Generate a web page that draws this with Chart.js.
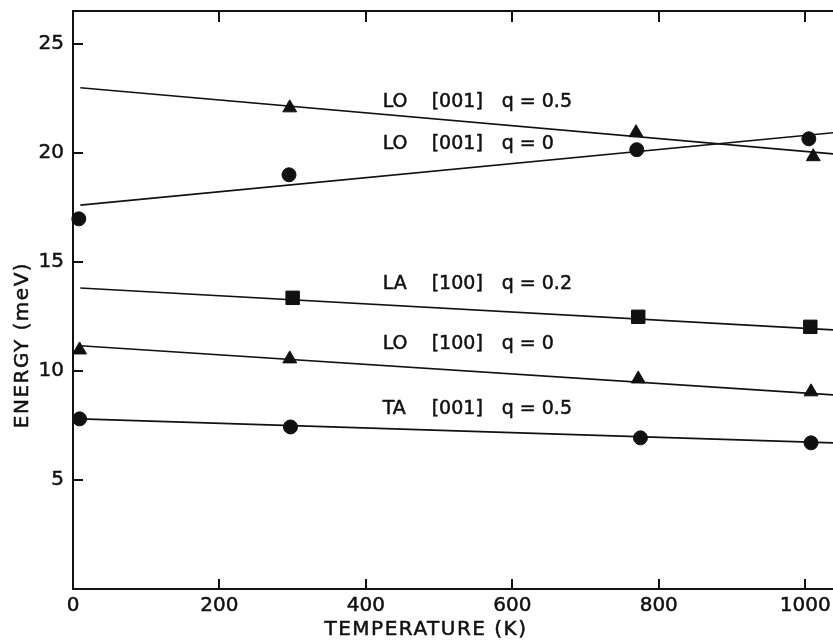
<!DOCTYPE html>
<html>
<head>
<meta charset="utf-8">
<script src="https://cdn.jsdelivr.net/npm/chart.js@4.4.1/dist/chart.umd.min.js"></script>
<style>
  html, body { margin: 0; padding: 0; background: #fff; }
  #wrap { width: 833px; height: 642px; }
</style>
</head>
<body>
<div id="wrap"><canvas id="c" width="833" height="642"></canvas></div>
<script>
// ---- data ----
const xTicks = [0, 200, 400, 600, 800, 1000];
const yTicks = [5, 10, 15, 20, 25];

// measured points
const lo001q05T = [296, 769, 1011];
const lo001q05E = [22.06, 20.92, 19.82];
const lo001q0T  = [8, 295, 770, 1005];
const lo001q0E  = [16.97, 18.99, 20.14, 20.64];
const la100q02T = [300, 772, 1007];
const la100q02E = [13.35, 12.48, 12.02];
const lo100q0T  = [9, 296, 772, 1008];
const lo100q0E  = [10.96, 10.55, 9.63, 9.04];
const ta001q05T = [9, 297, 775, 1008];
const ta001q05E = [7.80, 7.43, 6.93, 6.70];

// fitted straight lines (end points)
const fitT = [10, 1038];
const lo001q05Fit = [22.98, 19.95];
const lo001q0Fit  = [17.60, 20.92];
const la100q02Fit = [13.80, 11.88];
const lo100q0Fit  = [11.15, 8.90];
const ta001q05Fit = [7.80, 6.70];

// curve labels
const labelMode = ['LO', 'LO', 'LA', 'LO', 'TA'];
const labelDir  = ['[001]', '[001]', '[100]', '[100]', '[001]'];
const labelQ    = ['q = 0.5', 'q = 0', 'q = 0.2', 'q = 0', 'q = 0.5'];
const labelT    = [423, 423, 423, 423, 423];
const labelE    = [22.33, 20.40, 13.98, 11.23, 8.25];

const xTitle = 'TEMPERATURE (K)';
const yTitle = 'ENERGY (meV)';

// ---- build ----
const INK = '#111';
const FONT = '"DejaVu Sans", sans-serif';
const pts = (t, e) => t.map((v, i) => ({ x: v, y: e[i] }));

function markers(t, e, style, r) {
  return { data: pts(t, e), showLine: false, pointStyle: style, pointRadius: r,
           pointHoverRadius: r, backgroundColor: INK, borderColor: INK, borderWidth: 1 };
}
function fit(e) {
  return { data: pts(fitT, e), showLine: true, pointRadius: 0, borderColor: INK,
           borderWidth: 1.6, fill: false, tension: 0 };
}

function heavyText(ctx, s, x, y) {
  ctx.fillText(s, x, y);
  ctx.strokeText(s, x, y);
}

const decor = {
  id: 'decor',
  afterDraw(chart) {
    const ctx = chart.ctx, a = chart.chartArea;
    const xs = chart.scales.x, ys = chart.scales.y;
    ctx.save();
    ctx.strokeStyle = INK;
    ctx.lineWidth = 2;
    ctx.lineCap = 'butt';
    ctx.beginPath();
    ctx.moveTo(a.left, a.top); ctx.lineTo(a.left, a.bottom);
    ctx.moveTo(a.left - 1, a.bottom); ctx.lineTo(a.right, a.bottom);
    ctx.moveTo(a.left - 1, a.top); ctx.lineTo(a.right, a.top);
    ctx.stroke();
    ctx.beginPath();
    xTicks.forEach(v => {
      if (v === 0) return;
      const px = Math.round(xs.getPixelForValue(v));
      ctx.moveTo(px, a.bottom); ctx.lineTo(px, a.bottom - 10);
      ctx.moveTo(px, a.top); ctx.lineTo(px, a.top + 11);
    });
    yTicks.forEach(v => {
      const py = Math.round(ys.getPixelForValue(v));
      ctx.moveTo(a.left, py); ctx.lineTo(a.left + 10, py);
    });
    ctx.stroke();

    ctx.fillStyle = INK;
    ctx.lineWidth = 0.5;
    // tick labels
    ctx.font = '20px ' + FONT;
    ctx.textBaseline = 'middle';
    ctx.textAlign = 'center';
    xTicks.forEach(v => heavyText(ctx, String(v), xs.getPixelForValue(v), a.bottom + 17));
    ctx.textAlign = 'right';
    yTicks.forEach(v => heavyText(ctx, String(v), a.left - 9, ys.getPixelForValue(v)));

    // curve labels
    ctx.font = '19px ' + FONT;
    ctx.textAlign = 'left';
    labelMode.forEach((m, i) => {
      const px = xs.getPixelForValue(labelT[i]);
      const py = ys.getPixelForValue(labelE[i]);
      heavyText(ctx, m, px, py);
      heavyText(ctx, labelDir[i], px + 49, py);
      heavyText(ctx, labelQ[i], px + 119, py);
    });

    // axis titles
    ctx.font = '20px ' + FONT;
    ctx.letterSpacing = '1.5px';
    ctx.textAlign = 'center';
    heavyText(ctx, xTitle, 426, 630);
    ctx.translate(23, 345);
    ctx.rotate(-Math.PI / 2);
    heavyText(ctx, yTitle, 0, 0);
    ctx.restore();
  }
};

new Chart(document.getElementById('c'), {
  type: 'scatter',
  data: {
    datasets: [
      fit(lo001q05Fit), fit(lo001q0Fit), fit(la100q02Fit), fit(lo100q0Fit), fit(ta001q05Fit),
      markers(lo001q05T, lo001q05E, 'triangle', 8),
      markers(lo001q0T, lo001q0E, 'circle', 7),
      markers(la100q02T, la100q02E, 'rect', 9.5),
      markers(lo100q0T, lo100q0E, 'triangle', 8),
      markers(ta001q05T, ta001q05E, 'circle', 7)
    ]
  },
  options: {
    responsive: false,
    animation: false,
    devicePixelRatio: 1,
    clip: false,
    layout: { autoPadding: false, padding: { left: 0, top: 11, right: 0, bottom: 0 } },
    plugins: { legend: { display: false }, tooltip: { enabled: false } },
    scales: {
      x: {
        type: 'linear', min: 0, max: 1038,
        afterBuildTicks: s => { s.ticks = xTicks.map(v => ({ value: v })); },
        afterFit: s => { s.height = 53; },
        grid: { display: false, drawTicks: false },
        border: { display: false },
        ticks: { display: false }
      },
      y: {
        type: 'linear', min: 0, max: 26.5,
        afterBuildTicks: s => { s.ticks = yTicks.map(v => ({ value: v })); },
        afterFit: s => { s.width = 73; },
        grid: { display: false, drawTicks: false },
        border: { display: false },
        ticks: { display: false }
      }
    }
  },
  plugins: [decor]
});
</script>
</body>
</html>
